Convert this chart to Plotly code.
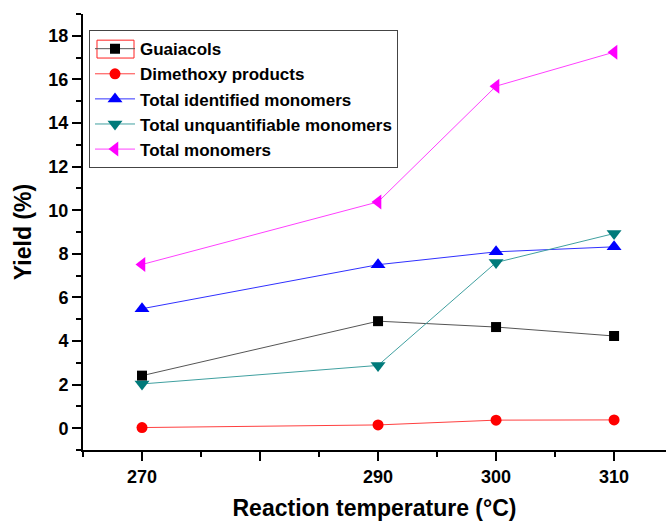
import plotly.graph_objects as go

# Reaction temperature (°C) and product yields (%)
temperature = [270, 290, 300, 310]
guaiacols = [2.41, 4.91, 4.64, 4.23]
dimethoxy = [0.03, 0.15, 0.37, 0.38]
total_identified = [5.48, 7.50, 8.09, 8.32]
total_unquantifiable = [2.03, 2.88, 7.60, 8.93]
total_monomers = [7.51, 10.38, 15.69, 17.25]

x_tickvals = [270, 280, 290, 300, 310]
x_ticktext = ["270", "", "290", "300", "310"]

series = [
    ("Guaiacols", guaiacols, "#000000", "#555555", "square", 10),
    ("Dimethoxy products", dimethoxy, "#FF0000", "#FF4040", "circle", 11),
    ("Total identified monomers", total_identified, "#0000FF", "#3030FF", "triangle-up", 13),
    ("Total unquantifiable monomers", total_unquantifiable, "#007A7A", "#40A0A0", "triangle-down", 13),
    ("Total monomers", total_monomers, "#FF00FF", "#FF40FF", "triangle-left", 13),
]

FONT = "Arial, Liberation Sans, sans-serif"

fig = go.Figure()
for name, vals, mcol, lcol, sym, size in series:
    fig.add_trace(go.Scatter(
        x=temperature, y=vals, name=name, mode="lines+markers",
        line=dict(color=lcol, width=1),
        marker=dict(symbol=sym, size=size, color=mcol, line=dict(width=0)),
    ))

axis_common = dict(
    showline=True, linecolor="black", linewidth=2,
    ticks="outside", tickcolor="black", tickwidth=2, ticklen=9,
    showgrid=False, zeroline=False, mirror=False,
    tickfont=dict(family=FONT, size=18, color="black", weight="bold"),
)

fig.update_xaxes(
    range=[265, 314.4], tickmode="array", tickvals=x_tickvals, ticktext=x_ticktext,
    minor=dict(tick0=265, dtick=5, ticks="outside", ticklen=5, tickwidth=2, tickcolor="black"),
    title=dict(text="Reaction temperature (°C)", font=dict(family=FONT, size=23, color="black", weight="bold"), standoff=14),
    **axis_common,
)
fig.update_yaxes(
    range=[-1, 19], tickmode="linear", tick0=0, dtick=2,
    minor=dict(tick0=1, dtick=1, ticks="outside", ticklen=5, tickwidth=2, tickcolor="black"),
    title=dict(text="Yield (%)", font=dict(family=FONT, size=23, color="black", weight="bold"), standoff=10),
    **axis_common,
)

# red selection frame around the first legend key
fig.add_shape(
    type="rect", xref="paper", yref="paper",
    x0=0.024, x1=0.0875, y0=0.899, y1=0.940,
    line=dict(color="#FF2020", width=1), fillcolor="rgba(0,0,0,0)",
)

fig.update_layout(
    width=666, height=522,
    margin=dict(l=83, r=0, t=14, b=72),
    paper_bgcolor="white", plot_bgcolor="white",
    showlegend=True,
    legend=dict(
        x=0.0103, y=0.963, xanchor="left", yanchor="top",
        bgcolor="rgba(0,0,0,0)", bordercolor="#444444", borderwidth=1,
        font=dict(family=FONT, size=17, color="black", weight="bold"),
        itemwidth=40, entrywidth=275, entrywidthmode="pixels",
    ),
)

fig.write_html("out.html")
